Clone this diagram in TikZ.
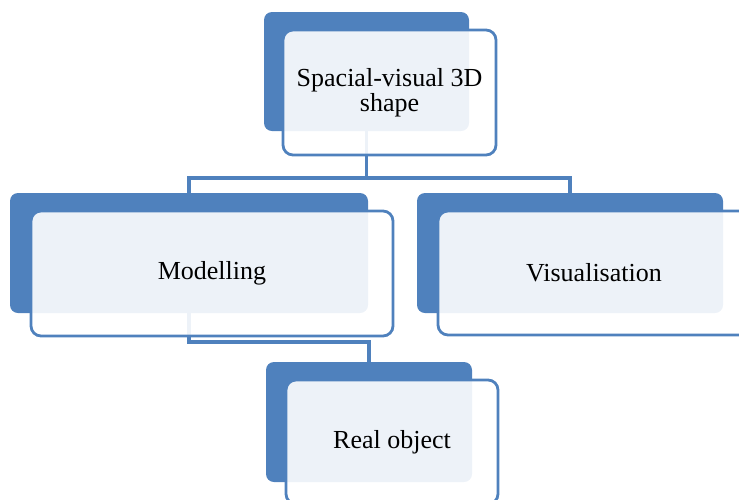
\documentclass[tikz,border=0pt]{standalone}
\usepackage{fontspec}
\setmainfont{Liberation Serif}
\definecolor{accblue}{HTML}{4F81BD}
\begin{document}
\begin{tikzpicture}[x=1pt,y=-1pt,
  backbox/.style={fill=accblue, draw=none, rounded corners=8pt, inner sep=0pt},
  frontbox/.style={fill=white, fill opacity=0.9, text opacity=1, draw=accblue, line width=2.8pt, rounded corners=10pt, inner sep=0pt, align=center, font=\fontsize{26}{25}\selectfont},
  conn/.style={draw=accblue, line width=3.2pt}]
\path[use as bounding box, clip] (0,0) rectangle (739,499);
% back boxes
\node[backbox, minimum width=205pt, minimum height=119pt] (topB) at (366.5,71.5) {};
\node[backbox, minimum width=358pt, minimum height=120pt] (modB) at (189,253) {};
\node[backbox, minimum width=306pt, minimum height=120pt] (visB) at (570,253) {};
\node[backbox, minimum width=206pt, minimum height=120pt] (realB) at (369,422) {};
% connectors
\coordinate (bus1) at (366.5,178);
\coordinate (bus2) at (189,342);
\draw[conn] (topB.south) -- (bus1) -| (modB.north);
\draw[conn] (bus1) -| (visB.north);
\draw[conn] (modB.south) -- (bus2) -| (realB.north);
% front boxes
\node[frontbox, minimum width=213pt, minimum height=125pt] (topF) at (389.5,92.5) {Spacial-visual 3D\\shape};
\node[frontbox, minimum width=362pt, minimum height=125pt] (modF) at (212,273.5) {Modelling};
\node[frontbox, minimum width=312pt, minimum height=124pt] (visF) at (594,273) {Visualisation};
\node[frontbox, minimum width=212pt, minimum height=124pt] (realF) at (392,442) {Real object};
\end{tikzpicture}
\end{document}
